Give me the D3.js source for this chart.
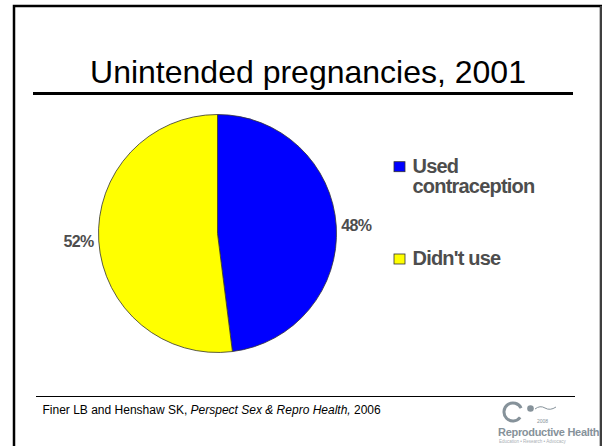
<!DOCTYPE html>
<html><head><meta charset="utf-8">
<script src="https://cdn.jsdelivr.net/npm/d3@7"></script>
<style>
html,body{margin:0;padding:0;background:#fff;}
svg{display:block;}
text{font-family:"Liberation Sans",Arial,sans-serif;}
</style></head>
<body>
<script>
// ---- data ----
const title = "Unintended pregnancies, 2001";
const categories = ["Used contraception", "Didn't use"];
const values = [48, 52];
const palette = ["#0000ff", "#ffff00"];
const sourcePlain = "Finer LB and Henshaw SK, ";
const sourceItalic = "Perspect Sex & Repro Health,";
const sourceYear = " 2006";

const W = 602, H = 446;
const svg = d3.select("body").append("svg").attr("width", W).attr("height", H);

// slide frame
svg.append("rect").attr("x", 14).attr("y", 6).attr("width", 587).attr("height", 520)
  .attr("fill", "none").attr("stroke", "#000").attr("stroke-width", 2.5);

// title
svg.append("text").attr("x", 308).attr("y", 83).attr("text-anchor", "middle")
  .attr("font-size", 32).attr("fill", "#000").text(title);
svg.append("line").attr("x1", 33).attr("x2", 573).attr("y1", 93.5).attr("y2", 93.5)
  .attr("stroke", "#000").attr("stroke-width", 3);

// pie
const cx = 217.5, cy = 233.5, r = 119;
const color = d3.scaleOrdinal().domain(categories).range(palette);
const pie = d3.pie().sort(null).value(d => d.v);
const data = pie(categories.map((c, i) => ({c, v: values[i]})));
const arc = d3.arc().innerRadius(0).outerRadius(r);
const g = svg.append("g").attr("transform", `translate(${cx},${cy})`);
g.selectAll("path").data(data).join("path")
  .attr("d", arc).attr("fill", d => color(d.data.c))
  .attr("stroke", "#333").attr("stroke-width", 0.8);

// labels
const lr = 124;
g.selectAll("text.lbl").data(data).join("text").attr("class", "lbl")
  .each(function(d) {
    const a = (d.startAngle + d.endAngle) / 2;
    const x = Math.sin(a) * lr, y = -Math.cos(a) * lr;
    d3.select(this).attr("x", x).attr("y", y).attr("dy", "0.35em")
      .attr("text-anchor", x >= 0 ? "start" : "end");
  })
  .attr("font-size", 16).attr("font-weight", "bold").attr("fill", "#4d4d4d")
  .attr("letter-spacing", -0.6)
  .text(d => d.data.v + "%");

// legend
const ly = d3.scalePoint().domain(categories).range([172.7, 265]);
const leg = svg.append("g");
categories.forEach(c => {
  const y = ly(c);
  leg.append("rect").attr("x", 394).attr("y", y - 11).attr("width", 11).attr("height", 10)
    .attr("fill", color(c)).attr("stroke", "#333").attr("stroke-width", 0.8);
  const words = c.length > 12 ? [c.slice(0, c.indexOf(" ")), c.slice(c.indexOf(" ") + 1)] : [c];
  const t = leg.append("text").attr("x", 412.5).attr("y", y)
    .attr("font-size", 20).attr("font-weight", "bold").attr("fill", "#4d4d4d")
    .attr("letter-spacing", -0.8);
  words.forEach((w, i) => t.append("tspan").attr("x", 412.5).attr("dy", i ? 20 : 0).text(w));
});

// footer
svg.append("line").attr("x1", 36).attr("x2", 575).attr("y1", 396.5).attr("y2", 396.5)
  .attr("stroke", "#000").attr("stroke-width", 1);
const ft = svg.append("text").attr("x", 42.5).attr("y", 414).attr("font-size", 12).attr("fill", "#000");
ft.append("tspan").text(sourcePlain);
ft.append("tspan").attr("font-style", "italic").text(sourceItalic);
ft.append("tspan").text(sourceYear);

// logo
const logo = svg.append("g").attr("fill", "#86929a").attr("stroke", "#86929a");
logo.append("path")
  .attr("d", d3.arc().innerRadius(7.5).outerRadius(10.5)
    .startAngle(Math.PI / 2 + 0.65).endAngle(Math.PI * 2.5 - 0.45)())
  .attr("transform", "translate(513,412)").attr("stroke", "none");
logo.append("circle").attr("cx", 530.5).attr("cy", 408.5).attr("r", 3.3).attr("stroke", "none");
logo.append("path").attr("d", "M535,409 q5,-4 10,-1 t11,-1").attr("fill", "none").attr("stroke-width", 1);
logo.append("text").attr("x", 537).attr("y", 423).attr("font-size", 5).attr("stroke", "none").text("2008");
logo.append("text").attr("x", 498).attr("y", 436).attr("font-size", 11).attr("font-weight", "bold")
  .attr("stroke", "none").attr("letter-spacing", -0.3).text("Reproductive Health");
logo.append("text").attr("x", 499).attr("y", 443).attr("font-size", 4.5).attr("stroke", "none")
  .attr("fill", "#aab0b5").text("Education • Research • Advocacy");

// right frame edge over logo
svg.append("line").attr("x1", 601).attr("x2", 601).attr("y1", 6).attr("y2", H)
  .attr("stroke", "#555").attr("stroke-width", 1.5);
</script>
</body></html>
